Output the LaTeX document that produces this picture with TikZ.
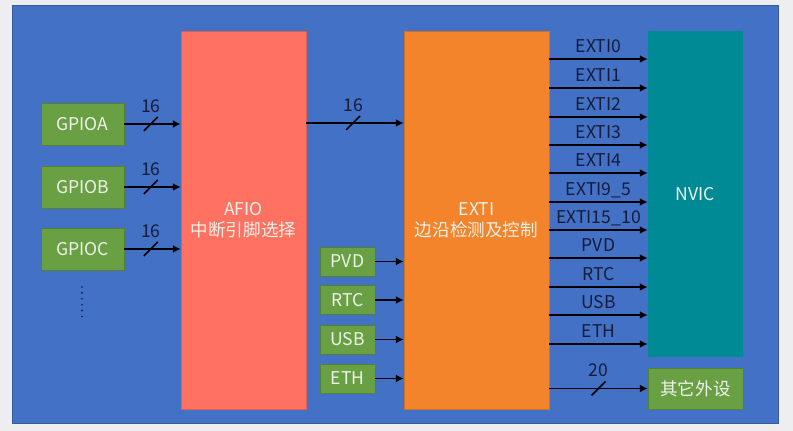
\documentclass[tikz,border=0pt]{standalone}
\usepackage{fontspec}
\setmainfont{Noto Sans CJK SC}
\usetikzlibrary{positioning,arrows.meta}
\definecolor{pagegrey}{RGB}{238,238,240}
\definecolor{panelblue}{RGB}{66,113,197}
\definecolor{gpiogreen}{RGB}{106,160,68}
\definecolor{afiored}{RGB}{255,113,96}
\definecolor{extiorange}{RGB}{244,132,44}
\definecolor{nvicteal}{RGB}{0,138,150}
\definecolor{boxtext}{RGB}{238,242,234}
\definecolor{linetext}{RGB}{22,28,58}
\tikzset{
    gpiobox/.style={
        draw=gpiogreen!80!black,
        fill=gpiogreen,
        text=boxtext,
        align=center,
        inner sep=0pt,
        minimum width=2.075cm,
        minimum height=1.05cm
    },
    srcbox/.style={
        draw=gpiogreen!80!black,
        fill=gpiogreen,
        text=boxtext,
        align=center,
        inner sep=0pt,
        minimum width=1.375cm,
        minimum height=0.725cm
    },
    afiobox/.style={
        draw=afiored!85!black,
        fill=afiored,
        text=boxtext,
        align=center,
        inner sep=0pt,
        minimum width=3.125cm,
        minimum height=9.45cm
    },
    extibox/.style={
        draw=extiorange!85!black,
        fill=extiorange,
        text=boxtext,
        align=center,
        inner sep=0pt,
        minimum width=3.625cm,
        minimum height=9.45cm
    },
    nvicbox/.style={
        fill=nvicteal,
        text=boxtext,
        align=center,
        inner sep=0pt,
        minimum width=2.375cm,
        minimum height=8.15cm
    },
    arrow/.style={-{Latex[length=5.5pt,width=5.5pt]}, line width=1.4pt, black}
}

\begin{document}
\begin{tikzpicture}[
    x=0.025cm, y=-0.025cm,
    font=\fontsize{12.5pt}{15pt}\selectfont,
    slash/.style={line width=1.1pt, black},
    buslbl/.style={text=linetext, inner sep=0pt, anchor=base},
    linelbl/.style={text=linetext, inner sep=0pt, above=4.6pt, anchor=base},
    dots/.style={line width=1.3pt, linetext, line cap=round, dash pattern=on 0pt off 4.2pt}
]

\useasboundingbox[fill=pagegrey] (0,0) rectangle (793,431);
\draw[fill=panelblue, draw=panelblue!80!black] (12,5) rectangle (778,423);

% GPIO PORTS
\node[gpiobox] (gpioa) at (82.5,124) {GPIOA};
\node[gpiobox] (gpiob) at (82.5,187) {GPIOB};
\node[gpiobox] (gpioc) at (82.5,249) {GPIOC};
\coordinate (dtop) at (82,287);
\coordinate (dbot) at (82,317);
\draw[dots] (dtop) -- (dbot);

% MAIN BLOCKS
\node[afiobox] (afio) at (243.5,220) {AFIO\\中断引脚选择};
\node[extibox] (exti) at (476.5,220) {EXTI\\边沿检测及控制};
\node[nvicbox] (nvic) at (695.5,194) {NVIC};
\node[gpiobox, minimum width=2.375cm, minimum height=1.025cm] (other) at (695.5,388.5) {其它外设};

% OTHER SOURCES
\node[srcbox] (pvd) at (347.5,261.5) {PVD};
\node[srcbox] (rtc) at (347.5,300) {RTC};
\node[srcbox] (usb) at (347.5,339.5) {USB};
\node[srcbox] (eth) at (347.5,378.5) {ETH};

% GPIO -> AFIO
\draw[arrow] (gpioa) -- coordinate[pos=0.47] (sa) (gpioa -| afio.west);
\draw[slash] (sa) +(-7,7) -- +(7,-7);
\node[buslbl] (na) at ([yshift=8.5pt]sa) {16};

\draw[arrow] (gpiob) -- coordinate[pos=0.47] (sb) (gpiob -| afio.west);
\draw[slash] (sb) +(-7,7) -- +(7,-7);
\node[buslbl] (nb) at ([yshift=8.5pt]sb) {16};

\draw[arrow] (gpioc) -- coordinate[pos=0.47] (sc) (gpioc -| afio.west);
\draw[slash] (sc) +(-7,7) -- +(7,-7);
\node[buslbl] (nc) at ([yshift=8.5pt]sc) {16};

% AFIO -> EXTI
\draw[arrow] (afio.east |- 0,123) -- coordinate[pos=0.48] (sx) (exti.west |- 0,123);
\draw[slash] (sx) +(-7,7) -- +(7,-7);
\node[buslbl] (nx) at ([yshift=8.5pt]sx) {16};

\draw[arrow] (pvd) -- (pvd -| exti.west);
\draw[arrow] (rtc) -- (rtc -| exti.west);
\draw[arrow] (usb) -- (usb -| exti.west);
\draw[arrow] (eth) -- (eth -| exti.west);

% EXTI -> NVIC
\draw[arrow] (exti.east |- 0,59) -- node[linelbl] {EXTI0} (nvic.west |- 0,59);
\draw[arrow] (exti.east |- 0,88) -- node[linelbl] {EXTI1} (nvic.west |- 0,88);
\draw[arrow] (exti.east |- 0,117) -- node[linelbl] {EXTI2} (nvic.west |- 0,117);
\draw[arrow] (exti.east |- 0,145) -- node[linelbl] {EXTI3} (nvic.west |- 0,145);
\draw[arrow] (exti.east |- 0,173) -- node[linelbl] {EXTI4} (nvic.west |- 0,173);
\draw[arrow] (exti.east |- 0,202) -- node[linelbl] {EXTI9\_5} (nvic.west |- 0,202);
\draw[arrow] (exti.east |- 0,230) -- node[linelbl] {EXTI15\_10} (nvic.west |- 0,230);
\draw[arrow] (exti.east |- 0,258) -- node[linelbl] {PVD} (nvic.west |- 0,258);
\draw[arrow] (exti.east |- 0,287) -- node[linelbl] {RTC} (nvic.west |- 0,287);
\draw[arrow] (exti.east |- 0,315) -- node[linelbl] {USB} (nvic.west |- 0,315);
\draw[arrow] (exti.east |- 0,344) -- node[linelbl] {ETH} (nvic.west |- 0,344);

% EXTI -> OTHER
\draw[arrow] (exti.east |- other) -- coordinate[pos=0.5] (so) (other.west);
\draw[slash] (so) +(-7,7) -- +(7,-7);
\node[buslbl] (no) at ([yshift=8.5pt]so) {20};

\end{tikzpicture}
\end{document}
